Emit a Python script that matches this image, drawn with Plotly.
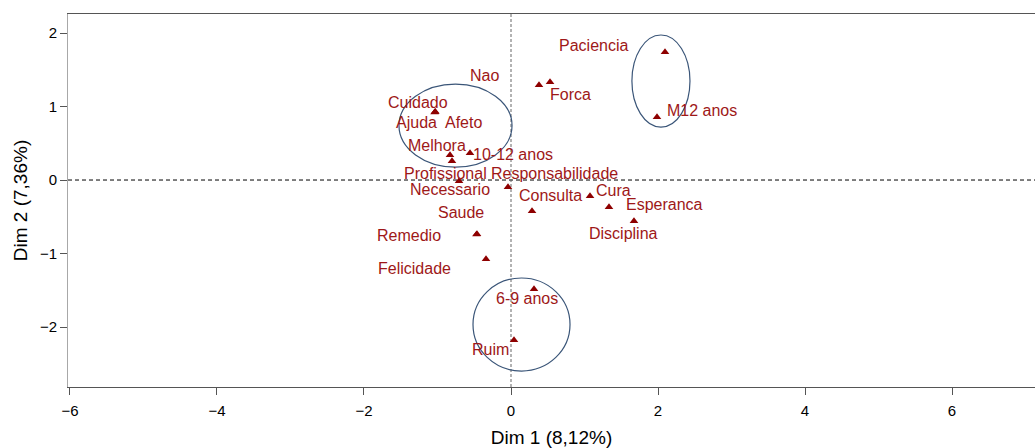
import plotly.graph_objects as go

# ---- data ----
labels = ["Paciencia", "Nao", "Forca", "M12 anos", "Cuidado", "Ajuda", "Afeto",
          "Melhora", "Profissional", "10-12 anos", "Necessario", "Responsabilidade",
          "Consulta", "Cura", "Esperanca", "Disciplina", "Saude", "Remedio",
          "Felicidade", "6-9 anos", "Ruim"]
dim1 = [2.095, 0.381, 0.531, 1.986, -1.034, -1.04, -1.03,
        -0.830, -0.803, -0.558, -0.707, -0.041,
        0.286, 1.075, 1.333, 1.673, -0.463, -0.47,
        -0.340, 0.313, 0.041]
dim2 = [1.741, 1.293, 1.333, 0.857, 0.925, 0.92, 0.93,
        0.340, 0.259, 0.367, -0.014, -0.095,
        -0.422, -0.218, -0.367, -0.558, -0.735, -0.74,
        -1.075, -1.483, -2.177]

# confidence ellipses (center x, center y, radius x, radius y)
ell_cx = [-0.755, 2.040, 0.143]
ell_cy = [0.741, 1.347, -1.966]
ell_rx = [0.769, 0.395, 0.660]
ell_ry = [0.565, 0.626, 0.633]

x_ticks = [-6, -4, -2, 0, 2, 4, 6]
y_ticks = [-2, -1, 0, 1, 2]

# ---- style: label pixel offsets (dx right, dy down) ----
label_dx = [-71, -55, 20, 45, -17, -18, 28, -13, -6, 43, -9, 47, 18, 23, 56, -10, -16, -67, -72, -7, -24]
label_dy = [-7, -10, 12, -7, -10, 10, 11, -10, 12, 1, 8, -14, -16, -6, -3, 12, -22, 1, 9, 9, 9]

FONT = "Liberation Sans, Arial, Helvetica, sans-serif"
RED_T = "#9E1818"
RED_M = "#8E0000"

fig = go.Figure()
fig.add_trace(go.Scatter(
    x=dim1, y=dim2, mode="markers",
    marker=dict(symbol="triangle-up", size=7.5, color=RED_M, line=dict(width=0)),
    hoverinfo="text", text=labels, showlegend=False, cliponaxis=False,
))

for lab, xv, yv, dx, dy in zip(labels, dim1, dim2, label_dx, label_dy):
    fig.add_annotation(x=xv, y=yv, text=lab, showarrow=False,
                       xshift=dx, yshift=-dy,
                       font=dict(family=FONT, size=16, color=RED_T))

for cx, cy, rx, ry in zip(ell_cx, ell_cy, ell_rx, ell_ry):
    fig.add_shape(type="circle", xref="x", yref="y",
                  x0=cx - rx, x1=cx + rx, y0=cy - ry, y1=cy + ry,
                  line=dict(color="#3A5578", width=1.2), layer="above")

# reference lines
fig.add_hline(y=0, line=dict(color="black", width=1, dash="4px,3px"), layer="below")
fig.add_vline(x=0, line=dict(color="#666666", width=1, dash="3px,2px"), layer="below")

fig.update_layout(
    width=1035, height=448,
    margin=dict(l=68, r=0, t=14, b=61),
    paper_bgcolor="white", plot_bgcolor="white",
    font=dict(family=FONT, size=15, color="black"),
    showlegend=False,
    xaxis=dict(
        range=[-6.027, 7.129], tickvals=x_ticks, ticks="outside", ticklen=7,
        tickcolor="#555555", tickwidth=1, showgrid=False, zeroline=False,
        showline=True, linecolor="#555555", linewidth=1, mirror=True,
        ticklabelstandoff=3,
        title=dict(text="Dim 1 (8,12%)", font=dict(size=19), standoff=12),
    ),
    yaxis=dict(
        range=[-2.816, 2.259], tickvals=y_ticks, ticks="outside", ticklen=7,
        tickcolor="#555555", tickwidth=1, showgrid=False, zeroline=False,
        showline=True, linecolor="#A8A8A8", linewidth=1,
        title=dict(text="Dim 2 (7,36%)", font=dict(size=19), standoff=7),
    ),
)

fig.write_html("out.html")
